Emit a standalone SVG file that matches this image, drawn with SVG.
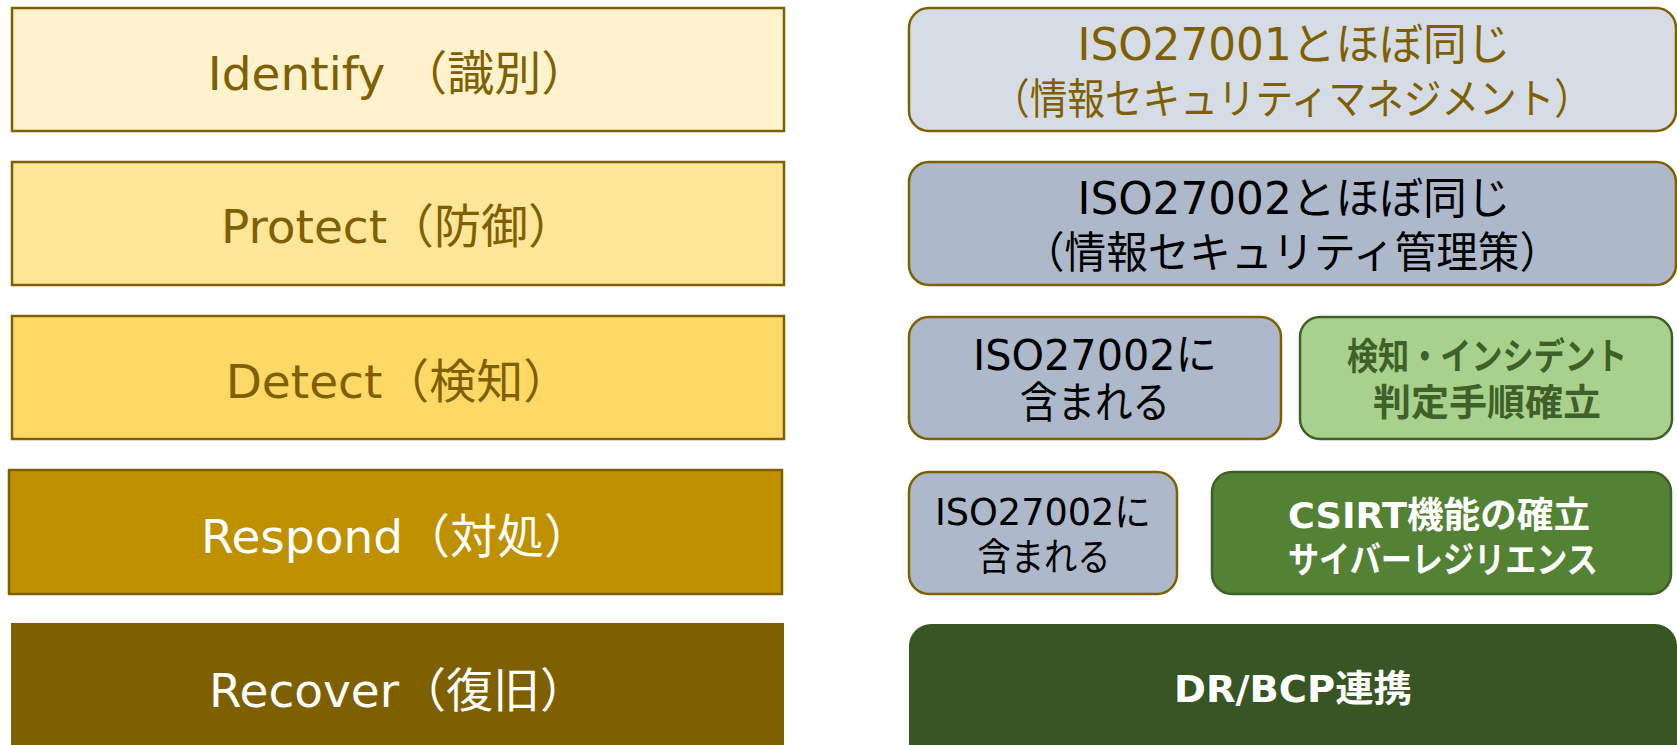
<svg xmlns="http://www.w3.org/2000/svg" width="1677" height="745" viewBox="0 0 1677 745">
<style>
text{font-family:"DejaVu Sans","Noto Sans CJK JP",sans-serif;text-anchor:middle}
.lb{stroke:#7F6000;stroke-width:2.5}
.rb{stroke:#7F6000;stroke-width:2.5}
.gb{stroke:#3F6129;stroke-width:2.5}
.lt{font-size:47px}
.br{fill:#7F6000}
.bk{fill:#000}
.wh{fill:#fff}
.bold{font-weight:bold}
</style>
<rect width="1677" height="745" fill="#fff"/>
<g id="connectors"/>
<g id="identify">
<rect class="lb" x="12" y="8" width="772" height="123" fill="#FFF2CC"/>
<text class="lt br" x="398" y="90">Identify （識別）</text>
</g>
<g id="protect">
<rect class="lb" x="12" y="162" width="772" height="123" fill="#FFE699"/>
<text class="lt br" x="398" y="243">Protect（防御）</text>
</g>
<g id="detect">
<rect class="lb" x="12" y="316" width="772" height="123" fill="#FFD966"/>
<text class="lt br" x="398" y="398">Detect（検知）</text>
</g>
<g id="respond">
<rect class="lb" x="9" y="470" width="773" height="124" fill="#BF9000"/>
<text class="lt wh" x="396" y="553">Respond（対処）</text>
</g>
<g id="recover">
<rect x="11" y="623" width="773" height="140" fill="#7F6000"/>
<text class="lt wh" x="398" y="707">Recover（復旧）</text>
</g>
<g id="iso27001">
<rect class="rb" x="909" y="8" width="767" height="123" rx="20" fill="#D6DCE5"/>
<text class="br" x="1294" y="60" font-size="44" textLength="433" lengthAdjust="spacingAndGlyphs">ISO27001とほぼ同じ</text>
<text class="br" x="1292" y="114" font-size="42" textLength="600" lengthAdjust="spacingAndGlyphs">（情報セキュリティマネジメント）</text>
</g>
<g id="iso27002">
<rect class="rb" x="909" y="162" width="767" height="123" rx="20" fill="#ADB9CA"/>
<text class="bk" x="1294" y="214" font-size="44" textLength="433" lengthAdjust="spacingAndGlyphs">ISO27002とほぼ同じ</text>
<text class="bk" x="1292" y="268" font-size="43" textLength="538" lengthAdjust="spacingAndGlyphs">（情報セキュリティ管理策）</text>
</g>
<g id="detect-iso">
<rect class="rb" x="909" y="317" width="372" height="122" rx="20" fill="#ADB9CA"/>
<text class="bk" x="1095" y="370" font-size="43" textLength="244" lengthAdjust="spacingAndGlyphs">ISO27002に</text>
<text class="bk" x="1095" y="418" font-size="43" textLength="150" lengthAdjust="spacingAndGlyphs">含まれる</text>
</g>
<g id="detect-procedure">
<rect class="gb" x="1300" y="317" width="372" height="122" rx="20" fill="#A9D18E"/>
<text class="bold" fill="#3F6129" x="1487" y="370" font-size="37" textLength="280" lengthAdjust="spacingAndGlyphs">検知・インシデント</text>
<text class="bold" fill="#3F6129" x="1487" y="416" font-size="37" textLength="228" lengthAdjust="spacingAndGlyphs">判定手順確立</text>
</g>
<g id="respond-iso">
<rect class="rb" x="909" y="472" width="268" height="122" rx="20" fill="#ADB9CA"/>
<text class="bk" x="1043" y="525" font-size="38" textLength="216" lengthAdjust="spacingAndGlyphs">ISO27002に</text>
<text class="bk" x="1044" y="570" font-size="38" textLength="133" lengthAdjust="spacingAndGlyphs">含まれる</text>
</g>
<g id="csirt">
<rect class="gb" x="1212" y="472" width="459" height="122" rx="20" fill="#548235"/>
<text class="bold wh" x="1439" y="528" font-size="36" textLength="302" lengthAdjust="spacingAndGlyphs">CSIRT機能の確立</text>
<text class="bold wh" x="1443" y="573" font-size="36" textLength="310" lengthAdjust="spacingAndGlyphs">サイバーレジリエンス</text>
</g>
<g id="drbcp">
<rect x="909" y="624" width="768" height="150" rx="22" fill="#375623"/>
<text class="bold wh" x="1293" y="702" font-size="37" textLength="238" lengthAdjust="spacingAndGlyphs">DR/BCP連携</text>
</g>
</svg>
